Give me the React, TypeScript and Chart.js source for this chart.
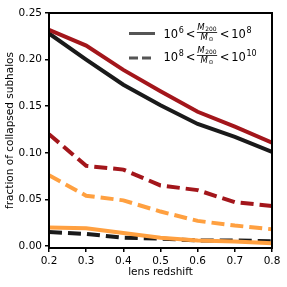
import React, { useEffect, useRef } from "react";
import { Chart, registerables } from "chart.js";

Chart.register(...registerables);

const redshift = [0.2, 0.3, 0.4, 0.5, 0.6, 0.7, 0.8];
const blackSolid = [0.228, 0.2, 0.173, 0.151, 0.131, 0.117, 0.101];
const redSolid = [0.232, 0.215, 0.189, 0.166, 0.144, 0.128, 0.111];
const redDashed = [0.12, 0.086, 0.082, 0.065, 0.06, 0.047, 0.043];
const orangeDashed = [0.076, 0.054, 0.049, 0.037, 0.027, 0.022, 0.018];
const orangeSolid = [0.02, 0.019, 0.014, 0.009, 0.006, 0.005, 0.003];
const blackDashed = [0.015, 0.013, 0.009, 0.008, 0.006, 0.006, 0.005];
const yTicks = [0, 0.05, 0.1, 0.15, 0.2, 0.25];
const xTicks = [0.2, 0.3, 0.4, 0.5, 0.6, 0.7, 0.8];
const legendRows = [
  { lo: "6", hi: "8", dash: [] as number[] },
  { lo: "8", hi: "10", dash: [9, 4] },
];

const BLACK = "#1a1a1a";
const RED = "#a3161b";
const ORANGE = "#ffa040";
const FONT = "'DejaVu Sans', sans-serif";

function pts(arr: number[]) {
  return arr.map((v, i) => ({ x: redshift[i], y: v }));
}

function drawLegendText(ctx: CanvasRenderingContext2D, x0: number, base: number, lo: string, hi: string) {
  let x = x0;
  ctx.fillStyle = "#000";
  ctx.textBaseline = "alphabetic";
  ctx.textAlign = "left";
  const big = `11.5px ${FONT}`;
  const sup = `8px ${FONT}`;
  const frac = `italic 8.5px ${FONT}`;
  const sub = `6px ${FONT}`;
  const sun = `6px ${FONT}`;
  ctx.font = big;
  ctx.fillText("10", x, base);
  x += ctx.measureText("10").width;
  ctx.font = sup;
  ctx.fillText(lo, x + 0.5, base - 5.3);
  x += ctx.measureText(lo).width + 2.5;
  ctx.font = big;
  ctx.fillText("<", x, base);
  x += ctx.measureText("<").width + 1.5;
  // fraction
  ctx.font = frac;
  const wM = ctx.measureText("M").width;
  ctx.font = sub;
  const w200 = ctx.measureText("200").width;
  const numW = wM + w200 + 0.5;
  ctx.font = sun;
  const wSun = ctx.measureText("\u2299").width;
  const denW = wM + wSun + 0.5;
  const fw = Math.max(numW, denW) + 1;
  const barY = base - 6;
  const nx = x + (fw - numW) / 2;
  ctx.font = frac;
  ctx.fillText("M", nx, barY - 2);
  ctx.font = sub;
  ctx.fillText("200", nx + wM + 0.5, barY - 0.8);
  ctx.fillRect(x, barY, fw, 0.8);
  const dx = x + (fw - denW) / 2;
  ctx.font = frac;
  ctx.fillText("M", dx, barY + 7.5);
  ctx.font = sun;
  ctx.fillText("\u2299", dx + wM + 0.5, barY + 9);
  x += fw + 2.5;
  ctx.font = big;
  ctx.fillText("<", x, base);
  x += ctx.measureText("<").width + 2;
  ctx.fillText("10", x, base);
  x += ctx.measureText("10").width;
  ctx.font = sup;
  ctx.fillText(hi, x + 0.5, base - 5.3);
}

const framePlugin = {
  id: "frame",
  afterDraw(chart: any) {
    const { ctx, chartArea } = chart;
    ctx.save();
    ctx.strokeStyle = "#000";
    ctx.lineWidth = 2;
    ctx.strokeRect(chartArea.left, chartArea.top, chartArea.right - chartArea.left, chartArea.bottom - chartArea.top);
    legendRows.forEach((row, i) => {
      const y = 33.5 + i * 24.5;
      ctx.strokeStyle = "#555555";
      ctx.lineWidth = 3;
      ctx.setLineDash(row.dash);
      ctx.beginPath();
      ctx.moveTo(129, y);
      ctx.lineTo(155, y);
      ctx.stroke();
      ctx.setLineDash([]);
      drawLegendText(ctx, 163.5, 38 + i * 23, row.lo, row.hi);
    });
    ctx.restore();
  },
};

export default function App() {
  const ref = useRef<HTMLCanvasElement>(null);
  useEffect(() => {
    if (!ref.current) return;
    const dash = [13, 6];
    const mk = (data: number[], color: string, dashed: boolean, order: number) => ({
      data: pts(data),
      borderColor: color,
      backgroundColor: color,
      borderWidth: 4,
      borderDash: dashed ? dash : [],
      pointRadius: 0,
      fill: false,
      tension: 0,
      order,
    });
    const chart = new Chart(ref.current, {
      type: "line",
      data: {
        datasets: [
          mk(blackSolid, BLACK, false, 6),
          mk(blackDashed, BLACK, true, 5),
          mk(redSolid, RED, false, 4),
          mk(redDashed, RED, true, 3),
          mk(orangeDashed, ORANGE, true, 2),
          mk(orangeSolid, ORANGE, false, 1),
        ],
      },
      options: {
        responsive: false,
        animation: false,
        layout: { padding: { top: 13, right: 15, left: 0, bottom: 0 } },
        plugins: { legend: { display: false }, tooltip: { enabled: false } },
        scales: {
          x: {
            type: "linear",
            min: 0.2,
            max: 0.8,
            afterFit(scale: any) {
              scale.height = 39;
            },
            afterBuildTicks(scale: any) {
              scale.ticks = xTicks.map((v) => ({ value: v }));
            },
            grid: { drawOnChartArea: false, drawTicks: true, tickLength: 4, color: "#000", lineWidth: 1.5 },
            border: { display: true, color: "#000", width: 2 },
            ticks: {
              color: "#000",
              padding: 3,
              maxRotation: 0,
              font: { family: FONT, size: 10.5 },
              callback: (v: any) => Number(v).toFixed(1),
            },
            title: {
              display: true,
              text: "lens redshift",
              color: "#000",
              font: { family: FONT, size: 10.5 },
              padding: { top: 0, bottom: 8 },
            },
          },
          y: {
            type: "linear",
            min: -0.0021,
            max: 0.25,
            afterFit(scale: any) {
              scale.width = 49;
            },
            afterBuildTicks(scale: any) {
              scale.ticks = yTicks.map((v) => ({ value: v }));
            },
            grid: { drawOnChartArea: false, drawTicks: true, tickLength: 4, color: "#000", lineWidth: 1.5 },
            border: { display: true, color: "#000", width: 2 },
            ticks: {
              color: "#000",
              padding: 3,
              font: { family: FONT, size: 10.5 },
              callback: (v: any) => Number(v).toFixed(2),
            },
            title: {
              display: true,
              text: "fraction of collapsed subhalos",
              color: "#000",
              font: { family: FONT, size: 10.5 },
              padding: { top: 4, bottom: 0 },
            },
          },
        },
      },
      plugins: [framePlugin],
    } as any);
    return () => chart.destroy();
  }, []);
  return (
    <div style={{ position: "fixed", left: 0, top: 0, width: 287, height: 287, background: "#fff" }}>
      <canvas ref={ref} width={287} height={287} />
    </div>
  );
}
